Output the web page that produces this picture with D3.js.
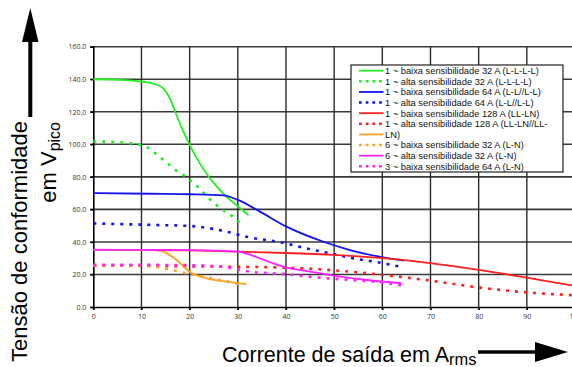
<!DOCTYPE html>
<html lang="pt">
<head>
<meta charset="UTF-8">
<title>Tensão de conformidade</title>
<script src="https://d3js.org/d3.v7.min.js"></script>
<style>
  body { margin: 0; background: #fff; }
  svg { display: block; }
  .tick-lbl { font-family: "Open Sans", sans-serif; font-size: 7px; fill: #333; }
  .leg-lbl { font-family: "Liberation Sans", Arial, sans-serif; font-size: 9.3px; fill: #111; }
  .title { font-family: "Liberation Sans", Arial, sans-serif; fill: #000; }
</style>
</head>
<body>
<div id="chart"></div>
<script>
// ---- data ----
const xTicks = [0, 10, 20, 30, 40, 50, 60, 70, 80, 90, 100];
const yTicks = [0, 20, 40, 60, 80, 100, 120, 140, 160];

const green32bX = [0, 5, 10, 12.8, 14.5, 15.9, 17, 18.4, 20, 22.1, 24.2, 27.3, 30.1, 32.2];
const green32bY = [140, 139.7, 138.6, 137, 134.4, 128.3, 120, 109.8, 99.6, 88.3, 79.1, 68.8, 61.6, 56.5];

const green32aX = [0, 5, 10, 12.1, 13.5, 15.1, 16.6, 18.4, 19.9, 21.8, 23.5, 25.3, 26.9, 28.2, 29.8, 31.1];
const green32aY = [101.8, 101.3, 99.5, 96.5, 92.8, 89.3, 85.2, 81.7, 78.5, 73.6, 68.2, 63.3, 59.6, 57.2, 53.5, 50.4];

const blue64bX = [0, 11.8, 20, 27, 30, 34.6, 40.1, 47.8, 53.3, 60.2, 64.5];
const blue64bY = [70, 69.6, 69.3, 68.6, 65.8, 58.6, 49.4, 40.1, 35, 30.5, 28.5];

const blue64aX = [0, 5, 12.8, 20, 27.7, 31.8, 39.4, 44.3, 49.1, 54, 60.2, 64];
const blue64aY = [51.4, 51, 50.4, 49.8, 46.3, 43.2, 39.5, 36, 33, 29.9, 26.9, 24.6];

const red128bX = [0, 10, 20, 30, 40, 50, 60, 65, 70, 75, 80, 85, 90, 95, 100];
const red128bY = [35, 35, 34.8, 34, 33.2, 32, 30, 28.7, 27, 25, 22.8, 20.5, 18, 15.5, 13];

const red128aX = [0, 10, 20, 30, 40, 50, 60, 70, 80, 90, 100];
const red128aY = [25.4, 25.3, 25, 24.7, 24.2, 22.5, 19.8, 16.2, 12, 9, 7.2];

const orange32bX = [0, 10, 13, 14.5, 17.3, 20, 23.5, 27.7, 31.8];
const orange32bY = [35, 35, 34.8, 34, 28.9, 21.7, 17.6, 15.6, 14.1];

const orange32aX = [0, 10, 11.8, 14.5, 18.7, 22.2, 25.6, 28.5, 30.8];
const orange32aY = [25.6, 25.5, 25.2, 23.8, 21.1, 19, 17, 15.3, 13.5];

const magenta32X = [0, 10, 20, 30, 32, 34.6, 37, 39.4, 45, 50.5, 56.8, 64];
const magenta32Y = [35.2, 35.1, 34.9, 34, 32.6, 29.9, 27.2, 24.8, 21.7, 19, 16.6, 14.6];

const magenta64X = [0, 10, 20, 25, 27.7, 30, 32.5, 39.4, 46.4, 53.3, 60.2, 64];
const magenta64Y = [25.9, 25.9, 25.7, 25.1, 24.4, 23.1, 21.7, 20.3, 18.2, 16.6, 15, 13.3];

const legendLabels = [
  "1 ~ baixa sensibilidade 32 A (L-L-L-L)",
  "1 ~ alta sensibilidade 32 A (L-L-L-L)",
  "1 ~ baixa sensibilidade 64 A (L-L//L-L)",
  "1 ~ alta sensibilidade 64 A (L-L//L-L)",
  "1 ~ baixa sensibilidade 128 A (LL-LN)",
  "1 ~ alta sensibilidade 128 A (LL-LN//LL-",
  "LN)",
  "6 ~ baixa sensibilidade 32 A (L-N)",
  "6 ~ alta sensibilidade 32 A (L-N)",
  "3 ~ baixa sensibilidade 64 A (L-N)"
];

const GREEN = "#22ee22", BLUE = "#1414f0", RED = "#ff1e1e", ORANGE = "#ffa020", MAGENTA = "#ff22ff";

// series in legend order
const series = [
  { xs: green32bX, ys: green32bY, color: GREEN, dotted: false },
  { xs: green32aX, ys: green32aY, color: GREEN, dotted: true },
  { xs: blue64bX, ys: blue64bY, color: BLUE, dotted: false },
  { xs: blue64aX, ys: blue64aY, color: BLUE, dotted: true },
  { xs: red128bX, ys: red128bY, color: RED, dotted: false },
  { xs: red128aX, ys: red128aY, color: RED, dotted: true },
  { xs: orange32bX, ys: orange32bY, color: ORANGE, dotted: false },
  { xs: orange32aX, ys: orange32aY, color: ORANGE, dotted: true },
  { xs: magenta32X, ys: magenta32Y, color: MAGENTA, dotted: false },
  { xs: magenta64X, ys: magenta64Y, color: MAGENTA, dotted: true }
];

const width = 572, height = 367;

const svg = d3.select("#chart").append("svg")
  .attr("width", width)
  .attr("height", height);

const x = d3.scaleLinear().domain([0, 100]).range([93.3, 575]);
const y = d3.scaleLinear().domain([0, 160]).range([307, 46.7]);

// grid
svg.append("g")
  .selectAll("line")
  .data(yTicks.filter(d => d > 0))
  .join("line")
  .attr("x1", x(0) - 3).attr("x2", x(100))
  .attr("y1", d => y(d)).attr("y2", d => y(d))
  .attr("stroke", "#3a3a3a").attr("stroke-width", 1.6);

svg.append("g")
  .selectAll("line")
  .data(xTicks.filter(d => d > 0))
  .join("line")
  .attr("x1", d => x(d)).attr("x2", d => x(d))
  .attr("y1", y(160)).attr("y2", y(0) + 3)
  .attr("stroke", "#2a2a2a").attr("stroke-width", 1.4);

// axes
const xAxis = svg.append("g")
  .attr("transform", `translate(0,${y(0)})`)
  .call(d3.axisBottom(x).tickValues(xTicks).tickSize(3).tickFormat(d3.format("d")));
const yAxis = svg.append("g")
  .attr("transform", `translate(${x(0)},0)`)
  .call(d3.axisLeft(y).tickValues(yTicks).tickSize(3).tickFormat(d3.format(".1f")));

[xAxis, yAxis].forEach(a => {
  a.select(".domain").attr("stroke", "#000").attr("stroke-width", 1.6);
  a.selectAll(".tick line").attr("stroke", "#000").attr("stroke-width", 1.4);
  a.selectAll(".tick text").attr("class", "tick-lbl").attr("fill", null);
});
xAxis.selectAll(".tick text").attr("dy", "0.9em").attr("y", 6);
yAxis.selectAll(".tick text").attr("x", -7);

// curves
const line = d3.line()
  .x(d => x(d[0]))
  .y(d => y(d[1]))
  .curve(d3.curveMonotoneX);

svg.append("g")
  .selectAll("path")
  .data(series)
  .join("path")
  .attr("d", s => line(s.xs.map((v, i) => [v, s.ys[i]])))
  .attr("fill", "none")
  .attr("stroke", s => s.color)
  .attr("stroke-width", s => s.dotted ? 2.6 : 1.8)
  .attr("stroke-dasharray", s => s.dotted ? "3,6" : null);

// legend
const leg = svg.append("g");
leg.append("rect")
  .attr("x", 351).attr("y", 65)
  .attr("width", 212).attr("height", 107)
  .attr("fill", "#fff").attr("stroke", "#222").attr("stroke-width", 1.2);

const legRow = d3.scaleLinear().domain([0, 9]).range([70.7, 166.3]);
const legendSeries = [0, 1, 2, 3, 4, 5, 6, 7, 8, 9];

leg.selectAll("line")
  .data(legendSeries)
  .join("line")
  .attr("x1", 359).attr("x2", 383.5)
  .attr("y1", (d, i) => legRow(i)).attr("y2", (d, i) => legRow(i))
  .attr("stroke", d => series[d].color)
  .attr("stroke-width", d => series[d].dotted ? 2.6 : 1.8)
  .attr("stroke-dasharray", d => series[d].dotted ? "2.7,4" : null);

leg.selectAll("text")
  .data(legendLabels)
  .join("text")
  .attr("class", "leg-lbl")
  .attr("x", 385)
  .attr("y", (d, i) => legRow(i) + 3.4)
  .text(d => d);

// y title
const yt = svg.append("g").attr("transform", "translate(0,121) rotate(-90)");
yt.append("text")
  .attr("class", "title")
  .attr("x", 0).attr("y", 27)
  .attr("text-anchor", "end")
  .attr("font-size", 22)
  .text("Tensão de conformidade");
const yt2 = yt.append("text")
  .attr("class", "title")
  .attr("x", -1).attr("y", 56)
  .attr("text-anchor", "end")
  .attr("font-size", 22);
yt2.append("tspan").text("em V");
yt2.append("tspan").attr("font-size", 16).attr("dy", 4).text("pico");

// y arrow
svg.append("line")
  .attr("x1", 30.3).attr("x2", 30.3)
  .attr("y1", 117).attr("y2", 40)
  .attr("stroke", "#000").attr("stroke-width", 4);
svg.append("path")
  .attr("d", "M30.3,8 L38.5,42 L22,42 Z")
  .attr("fill", "#000");

// x title
const xt = svg.append("text")
  .attr("class", "title")
  .attr("x", 222).attr("y", 361.5)
  .attr("font-size", 21.5);
xt.append("tspan").text("Corrente de saída em A");
xt.append("tspan").attr("font-size", 16.5).attr("dy", 3).text("rms");

// x arrow
svg.append("line")
  .attr("x1", 478).attr("x2", 537)
  .attr("y1", 352).attr("y2", 352)
  .attr("stroke", "#000").attr("stroke-width", 3.4);
svg.append("path")
  .attr("d", "M568,352 L535,342 L535,362 Z")
  .attr("fill", "#000");
</script>
</body>
</html>
